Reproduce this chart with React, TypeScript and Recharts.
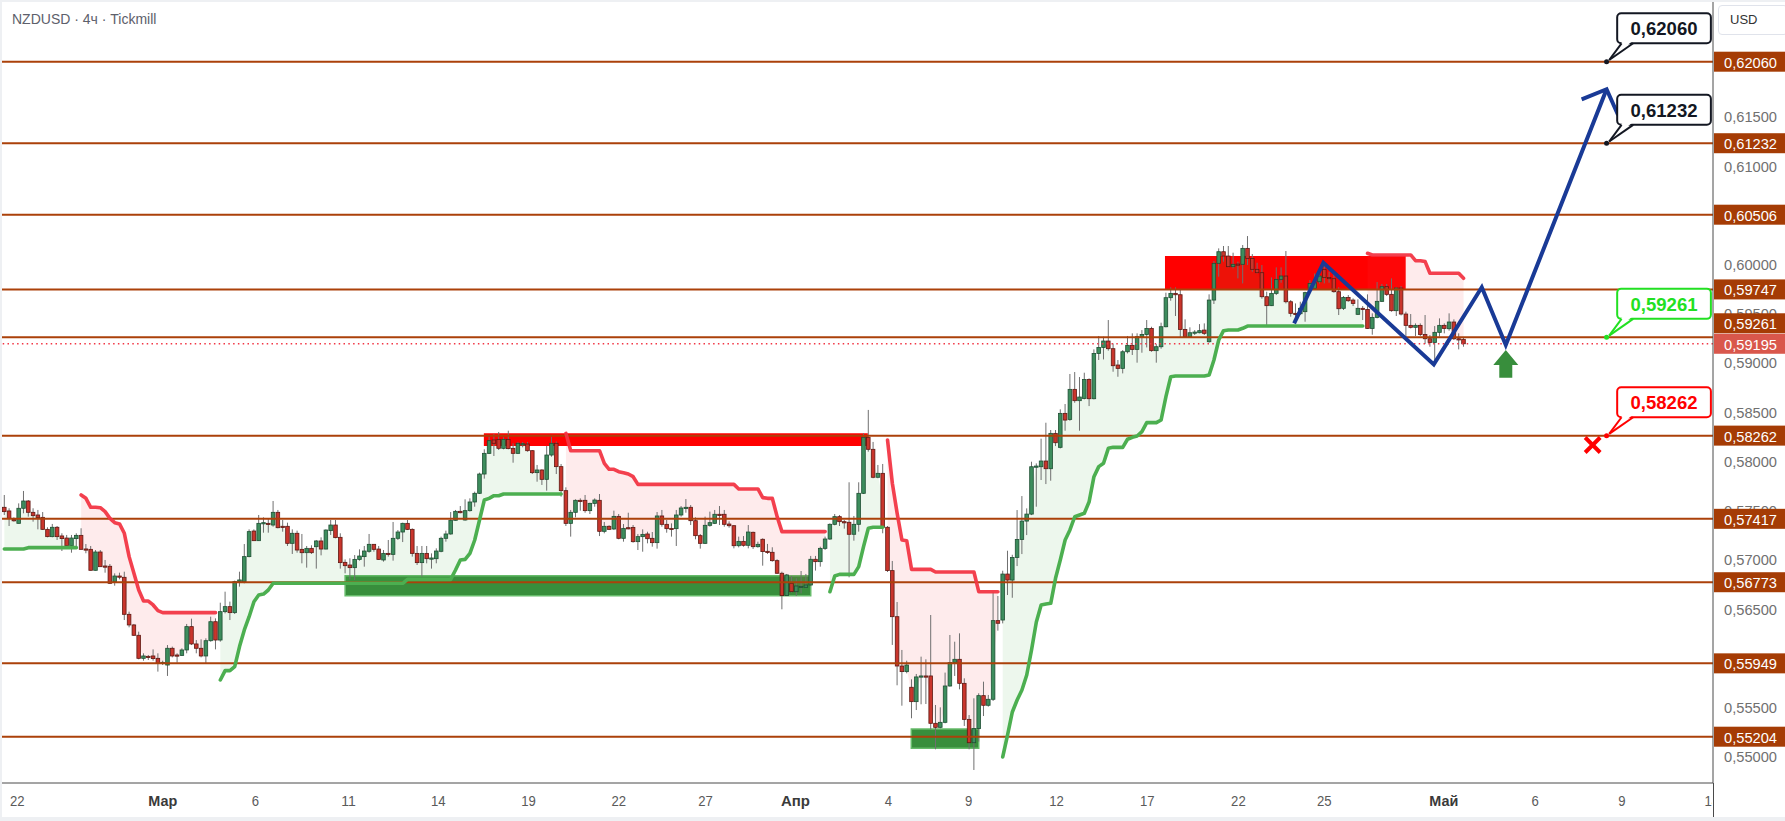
import React from "react";
import {
  ComposedChart,
  XAxis,
  YAxis,
  Bar,
  Line,
  Area,
  ReferenceLine,
  ReferenceArea,
  ReferenceDot,
} from "recharts";

// Prices below are stored in points (price x 100000). Bar index k: one 4h candle per step.
const PTS = 100000;

const openPts = [
  57534,57497,57409,57371,57524,57598,57483,57456,57432,57310,
  57236,57331,57243,57222,57144,57216,57249,57111,57107,56894,
  57080,56938,56935,56779,56836,56823,56447,56339,56234,56000,
  56020,56024,56000,55949,55932,56102,56034,56030,56085,56322,
  56146,56102,56024,56179,56372,56186,56474,56525,56464,56779,
  56779,57033,57293,57195,57371,57371,57354,57483,57341,57341,
  57168,57270,57107,57073,57117,57134,57192,57110,57297,57354,
  57229,56975,56948,56921,57005,57033,57087,57158,57110,56999,
  57066,57056,57219,57283,57371,57310,57066,56972,57066,57016,
  57012,57087,57219,57263,57402,57493,57405,57500,57588,57676,
  57872,58082,58218,58224,58133,58224,58133,58082,58177,58177,
  58109,57886,57913,57818,58065,58184,57947,57703,57371,57483,
  57605,57605,57500,57574,57605,57290,57341,57314,57442,57219,
  57327,57330,57185,57236,57263,57219,57175,57446,57361,57320,
  57317,57456,57527,57534,57398,57246,57168,57351,57371,57463,
  57463,57364,57347,57144,57188,57148,57280,57134,57209,57087,
  57077,56992,56864,56637,56762,56677,56728,56721,56745,57006,
  56982,57117,57212,57361,57439,57388,57382,57260,57361,57676,
  58245,58123,57839,57879,57331,56891,56423,55922,55865,55706,
  55560,55811,55821,55821,55340,55299,55350,55719,55956,55990,
  55746,55380,55143,55286,55621,55523,55584,56383,56389,56856,
  56795,57025,57208,57394,57465,57946,57946,58004,57926,58285,
  58143,58488,58427,58732,58617,58640,58833,58637,59097,59158,
  59223,59145,58979,58945,59114,59179,59138,59267,59290,59351,
  59125,59165,59368,59663,59707,59693,59341,59267,59311,59307,
  59334,59216,59639,60012,60130,60086,59978,60005,60002,60164,
  60062,59951,59917,59673,59582,59707,59849,59883,59622,59504,
  59500,59521,59741,59758,59825,59951,59869,59856,59724,59555,
  59666,59639,59494,59555,59544,59351,59463,59626,59775,59697,
  59531,59761,59497,59382,59362,59382,59290,59246,59209,59311,
  59382,59348,59416,59246,59240,
];

const highPts = [
  57659,57524,57432,57574,57700,57608,57524,57507,57486,57331,
  57365,57344,57270,57253,57253,57270,57321,57161,57141,57100,
  57100,56999,56958,56863,56870,56880,56474,56349,56271,56051,
  56034,56091,56051,55976,56135,56119,56051,56102,56349,56403,
  56186,56193,56203,56423,56406,56565,56677,56576,56789,56880,
  57161,57310,57310,57456,57432,57422,57598,57507,57405,57378,
  57310,57297,57263,57141,57148,57202,57229,57310,57405,57405,
  57270,57005,57016,57049,57107,57141,57263,57161,57141,57100,
  57202,57385,57303,57378,57405,57320,57141,57141,57141,57066,
  57117,57236,57297,57486,57507,57547,57615,57625,57693,57886,
  58123,58251,58279,58299,58245,58312,58184,58197,58197,58197,
  58116,57964,57920,58157,58251,58201,57974,57737,57507,57615,
  57625,57659,57581,57625,57669,57385,57351,57500,57466,57364,
  57479,57354,57263,57310,57286,57283,57486,57507,57405,57371,
  57507,57547,57618,57557,57432,57263,57439,57490,57507,57547,
  57507,57391,57354,57236,57242,57354,57287,57185,57219,57162,
  57128,57006,56880,56857,56836,56813,56887,56857,57040,57040,
  57134,57236,57371,57466,57456,57405,57788,57446,57788,58286,
  58523,58198,57964,57974,57344,56989,56572,56085,55976,55787,
  55841,56017,55990,56440,55526,55502,55855,56237,56169,56254,
  55797,55424,55594,55645,55763,55628,56677,56633,56890,57093,
  57052,57506,57648,57523,57997,57980,58231,58393,58319,58319,
  58529,58583,58888,58908,58857,58901,58844,59138,59274,59267,
  59436,59199,59030,59131,59274,59301,59301,59334,59436,59368,
  59192,59409,59714,59768,59768,59741,59443,59362,59334,59395,
  59402,59697,60035,60164,60188,60188,60120,60029,60198,60289,
  60106,60018,59995,59724,59869,59971,59971,60137,59639,59605,
  59622,59724,59842,59910,59961,59995,59927,59903,59768,59680,
  59690,59656,59646,59578,59697,59504,59822,59802,59802,59859,
  59768,59781,59521,59497,59402,59402,59487,59284,59375,59453,
  59402,59504,59443,59301,59260,
];

const lowPts = [
  57456,57344,57388,57371,57473,57439,57388,57310,57304,57229,
  57229,57202,57090,57134,57073,57117,57107,57067,56891,56891,
  56931,56870,56755,56738,56802,56389,56315,56227,55990,55976,
  55983,55976,55865,55932,55821,56010,55956,56024,56051,56135,
  56051,56010,55949,56169,56091,56169,56457,56389,56450,56728,
  56762,57026,57192,57192,57276,57276,57337,57320,57286,57141,
  57060,57073,56965,56921,57060,56911,57046,57107,57253,57219,
  56911,56863,56802,56795,56992,56931,57073,57083,56999,56982,
  57033,56992,57202,57181,57303,57033,56948,56829,56965,56911,
  56965,57077,57185,57256,57398,57473,57398,57490,57540,57669,
  57825,58075,58055,58116,58123,58123,57987,58075,58143,58099,
  57872,57794,57761,57703,58048,57872,57642,57344,57236,57432,
  57500,57479,57466,57540,57242,57270,57303,57303,57209,57185,
  57310,57175,57100,57083,57168,57134,57114,57337,57276,57236,
  57141,57439,57479,57354,57209,57114,57161,57337,57364,57354,
  57337,57327,57117,57127,57134,57117,57111,57124,56941,57060,
  56982,56857,56498,56633,56667,56633,56660,56711,56735,56891,
  56931,57101,57202,57351,57344,57317,56823,57195,57287,57669,
  58099,57829,57829,57270,56877,56136,55726,55519,55848,55391,
  55475,55533,55536,55279,55076,55289,55340,55712,55821,55685,
  55313,55076,54866,55154,55414,55509,55567,56281,56355,56643,
  56615,56937,57059,57252,57455,57540,57811,57770,57804,58156,
  58132,58312,58413,58596,58312,58630,58562,58630,59030,59036,
  59125,58911,58860,58894,59097,59081,59003,59104,59158,59114,
  59003,59145,59362,59632,59477,59260,59260,59260,59284,59301,
  59284,59206,59599,59876,60029,59971,59961,59859,59808,59995,
  59927,59910,59653,59368,59578,59690,59815,59605,59470,59453,
  59487,59419,59724,59748,59808,59808,59815,59714,59487,59538,
  59622,59578,59487,59436,59345,59287,59453,59619,59680,59521,
  59477,59483,59267,59351,59274,59274,59192,59165,58996,59267,
  59301,59328,59233,59138,59165,
];

const closePts = [
  57490,57422,57398,57524,57598,57483,57449,57429,57310,57236,
  57331,57236,57216,57144,57222,57249,57107,57107,56894,57080,
  56931,56931,56762,56836,56830,56447,56339,56234,56000,56024,
  56017,55997,55949,55959,56102,56024,56030,56085,56322,56146,
  56102,56024,56179,56372,56186,56474,56525,56464,56779,56796,
  57033,57287,57195,57371,57378,57364,57483,57327,57337,57168,
  57270,57100,57073,57117,57073,57192,57110,57303,57354,57226,
  56972,56941,56921,57005,57039,57090,57158,57107,57005,57066,
  57063,57219,57283,57371,57310,57066,56972,57066,57012,57019,
  57090,57219,57263,57402,57493,57479,57500,57588,57676,57872,
  58082,58211,58184,58133,58224,58130,58082,58184,58180,58109,
  57886,57913,57818,58065,58184,57947,57703,57371,57483,57605,
  57601,57500,57574,57608,57290,57341,57310,57442,57219,57320,
  57317,57185,57236,57259,57215,57175,57446,57361,57317,57317,
  57456,57527,57534,57398,57246,57168,57351,57378,57463,57459,
  57361,57347,57144,57188,57148,57283,57134,57158,57084,57084,
  56992,56864,56637,56847,56677,56735,56731,56745,57006,56982,
  57117,57212,57361,57439,57388,57382,57260,57361,57676,58245,
  58123,57839,57879,57331,56891,56423,55922,55865,55932,55560,
  55811,55821,55817,55340,55299,55350,55719,55956,55990,55746,
  55380,55143,55286,55621,55523,55584,56383,56356,56856,56795,
  57025,57208,57394,57465,57946,57953,58004,57926,58285,58190,
  58488,58420,58732,58617,58654,58833,58637,59097,59158,59223,
  59145,58972,58945,59114,59179,59138,59267,59290,59351,59125,
  59165,59368,59663,59707,59693,59341,59267,59307,59314,59328,
  59301,59639,60012,60130,60086,59978,60002,60002,60164,60062,
  59951,59917,59673,59582,59707,59849,59883,59622,59504,59500,
  59555,59714,59808,59815,59883,59869,59856,59724,59551,59666,
  59632,59605,59555,59544,59351,59463,59626,59775,59697,59531,
  59761,59497,59382,59362,59382,59290,59246,59209,59311,59382,
  59351,59416,59246,59243,59195,
];

// Supertrend step line, as runs of [value in points, number of bars] from a start bar
const stUpRuns: [number, [number, number][]][] = [
  [0, [[57111, 5], [57124, 11]]],
  [45, [[55780,1],[55875,2],[55915,1],[56119,1],[56288,1],[56423,1],[56575,1],[56643,1],[56653,1],[56694,1],[56762,28],[56802,10],[56897,1],[56999,1],[57005,1],[57066,1],[57202,1],[57405,1],[57608,1],[57625,1],[57652,2],[57669,13]]],
  [172, [[56677,1],[56836,1],[56853,4],[56931,1],[57134,1],[57321,1],[57331,3]]],
  [208, [[54998,1],[55221,1],[55455,1],[55577,1],[55679,1],[55831,1],[56085,1],[56369,1],[56542,1],[56552,1],[56559,1],[56813,1],[57001,1],[57202,1],[57304,1],[57438,1],[57456,1],[57473,1],[57591,1],[57845,1],[57947,1],[57981,1],[58133,1],[58143,3],[58225,1],[58245,1],[58258,1],[58302,1],[58394,3],[58421,1],[58658,1],[58860,1],[58868,7],[58878,1],[59030,1],[59233,1],[59328,1],[59335,3],[59352,1],[59375,25]]],
];
const stDnRuns: [number, [number, number][]][] = [
  [16, [[57659,1],[57625,1],[57534,2],[57530,1],[57490,1],[57422,1],[57378,1],[57365,1],[57270,1],[57033,1],[56863,1],[56694,1],[56582,2],[56542,1],[56484,1],[56464,12]]],
  [117, [[58285,1],[58109,7],[57981,1],[57920,2],[57896,1],[57886,1],[57872,1],[57845,1],[57767,21],[57720,5],[57632,1],[57625,2],[57439,1],[57287,10]]],
  [184, [[58218,1],[57778,1],[57473,1],[57202,1],[57195,1],[56904,5],[56877,9],[56677,5]]],
  [284, [[60114,1],[60097,9],[60039,2],[60030,1],[59911,7],[59860,1]]],
];

const LEVELS = [0.6206, 0.61232, 0.60506, 0.59747, 0.59261, 0.58262, 0.57417, 0.56773, 0.55949, 0.55204];
const LAST_PRICE = 0.59195;
// round price ticks that stay visible beside the level tags
const PRICE_TICKS = [0.55, 0.555, 0.56, 0.565, 0.57, 0.575, 0.58, 0.585, 0.59, 0.595, 0.6, 0.61, 0.615];

const X_TICK_POS = [2.7, 33, 52.3, 71.7, 90.4, 109.2, 128, 146.1, 164.8, 184.2, 200.9, 219.2, 238.1, 257.1, 275, 299.9, 318.9, 337, 355.7];
const X_TICK_LABELS = ["22", "Мар", "6", "11", "14", "19", "22", "27", "Апр", "4", "9", "12", "17", "22", "25", "Май", "6", "9", "14"];
const MONTHS = ["Мар", "Апр", "Май"];

const SUPPLY_ZONES = [
  { k1: 99.9, k2: 179.9, p1: 0.58157, p2: 0.58286 },
  { k1: 241.8, k2: 291.95, p1: 0.59747, p2: 0.60087 },
];
const DEMAND_ZONES = [
  { k1: 71.0, k2: 168.0, p1: 0.56636, p2: 0.56839 },
  { k1: 188.95, k2: 203.0, p1: 0.55086, p2: 0.55282 },
];

const ZIG_K = [268.7, 274.8, 297.8, 307.8, 312.8, 333.8];
const ZIG_P = [0.59403, 0.60018, 0.58986, 0.59769, 0.59183, 0.6178];
const HEAD_K = [328.6, 333.8, 336.2];
const HEAD_P = [0.61678, 0.6178, 0.61519];

const CALLOUTS = [
  { k: 333.8, p: 0.6206, text: "0,62060", color: "#131722" },
  { k: 333.8, p: 0.61232, text: "0,61232", color: "#131722" },
  { k: 333.8, p: 0.59261, text: "0,59261", color: "#22e022" },
  { k: 333.8, p: 0.58262, text: "0,58262", color: "#ff0000" },
];
const BUY_ARROW = { k: 312.8, p: 0.59132 };
const STOP_MARK = { k: 330.9, p: 0.58167 };

const X_DOMAIN: [number, number] = [-0.902, 355.97];
const Y_DOMAIN: [number, number] = [0.547337, 0.626867];

const LEVEL_COLOR = "#ab410a";
const LEVEL_TAG = "#a53c05";
const FONT = "'Liberation Sans', Arial, sans-serif";

function expandRuns(segs: [number, [number, number][]][], n: number) {
  const arr: (number | null)[] = new Array(n).fill(null);
  for (const [start, runs] of segs) {
    let k = start;
    for (const [v, cnt] of runs) for (let j = 0; j < cnt; j++) arr[k++] = v;
  }
  return arr;
}

const N = closePts.length;
const stUp = expandRuns(stUpRuns, N);
const stDn = expandRuns(stDnRuns, N);

const rows = closePts.map((cp, i) => {
  const o = openPts[i] / PTS;
  const h = highPts[i] / PTS;
  const l = lowPts[i] / PTS;
  const c = cp / PTS;
  const mid = (o + c) / 2;
  const up = stUp[i] != null ? (stUp[i] as number) / PTS : null;
  const dn = stDn[i] != null ? (stDn[i] as number) / PTS : null;
  return {
    k: i, o, h, l, c,
    range: [l, h],
    up, dn,
    upFill: up != null ? [up, mid] : null,
    dnFill: dn != null ? [mid, dn] : null,
  };
});

const zigData = ZIG_K.map((k, i) => ({ k, p: ZIG_P[i] }));
const headData = HEAD_K.map((k, i) => ({ k, p: HEAD_P[i] }));

const fmt = (v: number) => v.toFixed(5).replace(".", ",");
const near = (a: number, b: number) => Math.abs(a - b) < 1e-7;

function Candle(props: any) {
  const { x, y, width, height, payload } = props;
  if (!payload || x == null) return null;
  const { o, h, l, c } = payload;
  const top = Math.min(y, y + height);
  const bot = Math.max(y, y + height);
  const span = h - l;
  const f = span > 0 ? (bot - top) / span : 0;
  const yO = top + (h - o) * f;
  const yC = top + (h - c) * f;
  const cx = x + width / 2;
  const isUp = c >= o;
  const bTop = Math.min(yO, yC);
  const bH = Math.max(Math.abs(yO - yC), 1.2);
  return (
    <g>
      <line x1={cx} x2={cx} y1={top} y2={bot} stroke="#707070" strokeWidth={1} />
      <rect
        x={cx - 1.8}
        y={bTop}
        width={3.6}
        height={bH}
        fill={isUp ? "#3d8d5d" : "#c9352c"}
        stroke={isUp ? "#1e4f33" : "#5e1812"}
        strokeWidth={0.8}
      />
    </g>
  );
}

function XTick(props: any) {
  const { x, index } = props;
  const label = X_TICK_LABELS[index] ?? "";
  const isMonth = MONTHS.includes(label);
  const tl = isMonth ? 29 : 7.3 * label.length;
  return (
    <g>
      <defs>
        <clipPath id={`xtc${index}`}>
          <rect x={0} y={784} width={1712} height={37} />
        </clipPath>
      </defs>
      <text
        x={x}
        y={806}
        textAnchor="middle"
        fontFamily={FONT}
        fontSize={15}
        fontWeight={isMonth ? "bold" : "normal"}
        fill={isMonth ? "#3a3a3a" : "#5a5a5a"}
        textLength={tl}
        lengthAdjust="spacingAndGlyphs"
        clipPath={`url(#xtc${index})`}
      >
        {label}
      </text>
    </g>
  );
}

function YTick(props: any) {
  const { y, payload } = props;
  const v = payload.value as number;
  const isLast = near(v, LAST_PRICE);
  const isLevel = LEVELS.some((lv) => near(lv, v));
  if (!isLast && !isLevel) {
    return (
      <text x={1724} y={y} dominantBaseline="central" fontFamily={FONT} fontSize={15} fill="#707070" textLength={53} lengthAdjust="spacingAndGlyphs">
        {fmt(v)}
      </text>
    );
  }
  const dy = near(v, 0.59261) ? -14 : 0;
  const yc = y + dy;
  return (
    <g>
      <rect x={1714} y={yc - 10} width={71} height={20} fill={isLast ? "#d9574c" : LEVEL_TAG} />
      <text x={1724} y={yc + 0.5} dominantBaseline="central" fontFamily={FONT} fontSize={15} fill="#ffffff" textLength={53} lengthAdjust="spacingAndGlyphs">
        {fmt(v)}
      </text>
    </g>
  );
}

function Callout(props: any) {
  const { cx, cy, text, color } = props;
  if (cx == null) return null;
  const bx = cx + 10.6;
  const by = cy - 48.4;
  const bw = 93.7;
  const bh = 30;
  const bottom = by + bh;
  const tipX = cx + 2.6;
  const tipY = cy - 1.7;
  return (
    <g>
      <rect x={bx} y={by} width={bw} height={bh} rx={4} fill="#ffffff" stroke={color} strokeWidth={2} />
      <polygon points={`${cx + 16},${bottom - 2} ${cx + 25.6},${bottom - 2} ${tipX},${tipY}`} fill="#ffffff" />
      <line x1={cx + 15} y1={bottom} x2={tipX} y2={tipY} stroke={color} strokeWidth={2} />
      <line x1={cx + 26.6} y1={bottom} x2={tipX} y2={tipY} stroke={color} strokeWidth={2} />
      <circle cx={cx} cy={cy} r={2.5} fill={color} />
      <text x={bx + bw / 2} y={by + bh / 2 + 1} textAnchor="middle" dominantBaseline="central" fontFamily={FONT} fontSize={18} fontWeight="bold" fill={color} textLength={67} lengthAdjust="spacingAndGlyphs">
        {text}
      </text>
    </g>
  );
}

function UpArrow(props: any) {
  const { cx, cy } = props;
  if (cx == null) return null;
  const pts = [
    [0, 0], [12.5, 15], [6.5, 15], [6.5, 27.7], [-6.5, 27.7], [-6.5, 15], [-12.5, 15],
  ].map(([dx, dy]) => `${cx + dx},${cy + dy}`).join(" ");
  return <polygon points={pts} fill="#388e3c" />;
}

function StopMark(props: any) {
  const { cx, cy } = props;
  if (cx == null) return null;
  const s = 7.5;
  return (
    <g stroke="#ff0000" strokeWidth={4}>
      <line x1={cx - s} y1={cy - s} x2={cx + s} y2={cy + s} />
      <line x1={cx - s} y1={cy + s} x2={cx + s} y2={cy - s} />
    </g>
  );
}

export default function App() {
  const yTicks = [...PRICE_TICKS, ...LEVELS, LAST_PRICE];
  return (
    <div style={{ position: "absolute", left: 0, top: 0, width: 1785, height: 821, background: "#ffffff", overflow: "hidden" }}>
      <ComposedChart width={1785} height={821} data={rows} margin={{ top: 0, right: 0, bottom: 0, left: 0 }}>
        <XAxis
          dataKey="k"
          type="number"
          domain={X_DOMAIN}
          allowDataOverflow
          ticks={X_TICK_POS}
          interval={0}
          tick={(p: any) => <XTick {...p} />}
          tickLine={false}
          axisLine={{ stroke: "#4a4a4a", strokeWidth: 1 }}
          height={38}
        />
        <YAxis
          orientation="right"
          type="number"
          domain={Y_DOMAIN}
          allowDataOverflow
          ticks={yTicks}
          interval={0}
          tick={(p: any) => <YTick {...p} />}
          tickLine={false}
          axisLine={{ stroke: "#4a4a4a", strokeWidth: 1 }}
          width={72}
        />

        {SUPPLY_ZONES.map((z, i) => (
          <ReferenceArea key={`s${i}`} x1={z.k1} x2={z.k2} y1={z.p1} y2={z.p2} fill="#ff0000" fillOpacity={1} stroke="none" />
        ))}
        {DEMAND_ZONES.map((z, i) => (
          <ReferenceArea key={`d${i}`} x1={z.k1} x2={z.k2} y1={z.p1} y2={z.p2} fill="#388e3c" fillOpacity={1} stroke="#66bb6a" strokeWidth={1.5} />
        ))}

        <Area dataKey="upFill" type="linear" stroke="none" fill="#4caf50" fillOpacity={0.1} isAnimationActive={false} connectNulls={false} activeDot={false} />
        <Area dataKey="dnFill" type="linear" stroke="none" fill="#f23645" fillOpacity={0.1} isAnimationActive={false} connectNulls={false} activeDot={false} />

        {LEVELS.map((lv) => (
          <ReferenceLine key={lv} y={lv} stroke={LEVEL_COLOR} strokeWidth={2} />
        ))}
        <ReferenceLine y={LAST_PRICE} stroke="#f23645" strokeWidth={1.3} strokeDasharray="1.5 3.3" />

        <Line dataKey="up" type="linear" stroke="#4caf50" strokeWidth={3.6} dot={false} activeDot={false} isAnimationActive={false} connectNulls={false} strokeLinecap="round" strokeLinejoin="round" />
        <Line dataKey="dn" type="linear" stroke="#f23645" strokeOpacity={0.95} strokeWidth={3.6} dot={false} activeDot={false} isAnimationActive={false} connectNulls={false} strokeLinecap="round" strokeLinejoin="round" />

        <Bar dataKey="range" barSize={4} shape={(p: any) => <Candle {...p} />} isAnimationActive={false} />

        <Line data={zigData} dataKey="p" type="linear" stroke="#193a96" strokeWidth={4} dot={false} activeDot={false} isAnimationActive={false} strokeLinejoin="miter" />
        <Line data={headData} dataKey="p" type="linear" stroke="#193a96" strokeWidth={4} dot={false} activeDot={false} isAnimationActive={false} strokeLinejoin="miter" />

        <ReferenceDot x={BUY_ARROW.k} y={BUY_ARROW.p} r={0} shape={(p: any) => <UpArrow {...p} />} />
        <ReferenceDot x={STOP_MARK.k} y={STOP_MARK.p} r={0} shape={(p: any) => <StopMark {...p} />} />
        {CALLOUTS.map((c) => (
          <ReferenceDot key={c.text} x={c.k} y={c.p} r={0} shape={(p: any) => <Callout {...p} text={c.text} color={c.color} />} />
        ))}
      </ComposedChart>

      <div style={{ position: "absolute", left: 12, top: 11, fontFamily: FONT, fontSize: 14, color: "#5d606b", whiteSpace: "nowrap" }}>
        NZDUSD · 4ч · Tickmill
      </div>
      <div
        style={{
          position: "absolute", left: 1718, top: 5, width: 70, height: 30, boxSizing: "border-box",
          border: "1px solid #e0e3eb", borderRadius: 4, background: "#ffffff",
          fontFamily: FONT, fontSize: 13, color: "#333333", lineHeight: "28px", paddingLeft: 11,
        }}
      >
        USD
      </div>
      <div style={{ position: "absolute", left: 1713, top: 783, width: 1, height: 34, background: "#4a4a4a" }} />
      <div
        style={{
          position: "absolute", left: 0, top: 0, width: 1785, height: 821, boxSizing: "border-box",
          borderTop: "2px solid #eef0f3", borderLeft: "2px solid #eef0f3", borderBottom: "4px solid #eef0f3",
          pointerEvents: "none",
        }}
      />
    </div>
  );
}
